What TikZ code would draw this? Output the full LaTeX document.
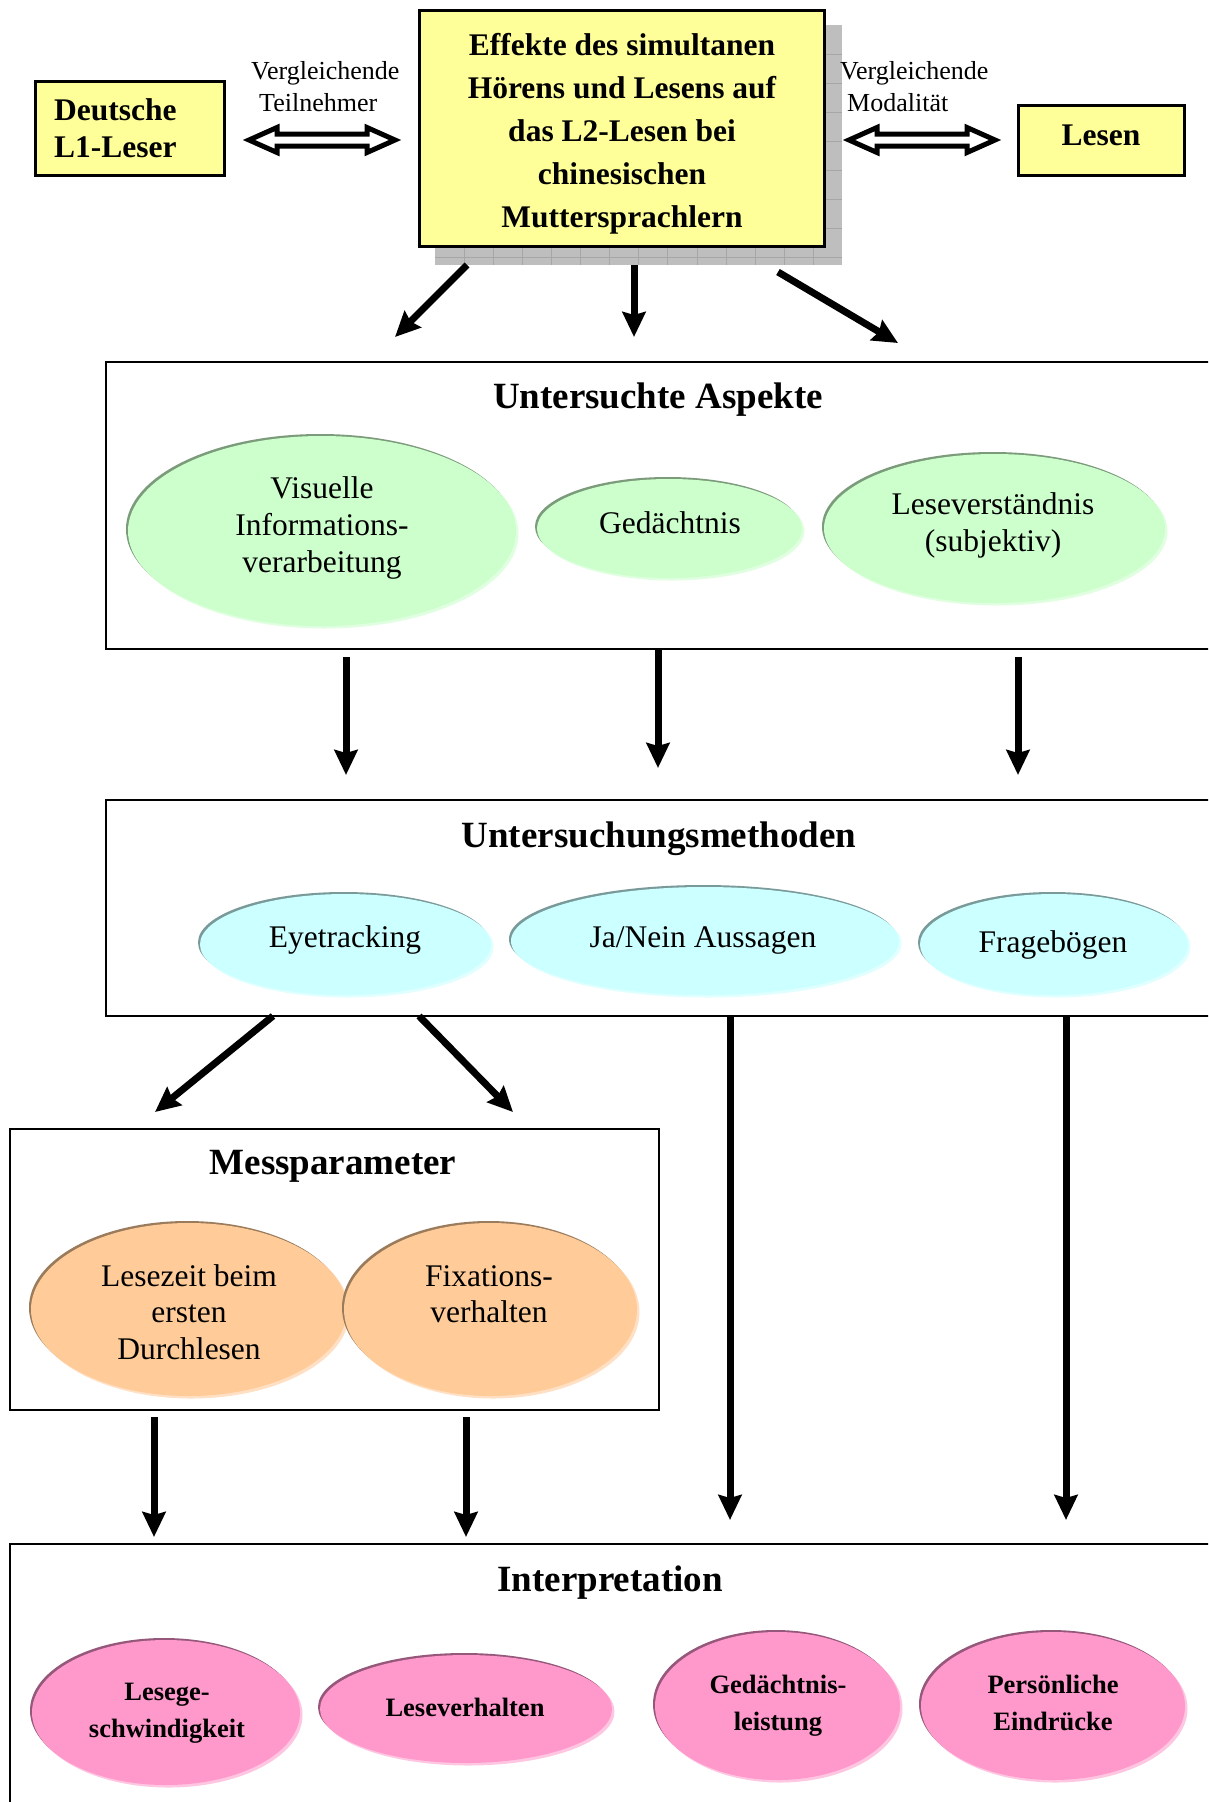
\documentclass[tikz,border=0pt]{standalone}
\usepackage{fontspec}
\setmainfont{Liberation Serif}
\usetikzlibrary{shapes.geometric,arrows.meta}

\definecolor{boxyellow}{HTML}{FFFF99}
\definecolor{shadowgray}{HTML}{BEBEBE}
\definecolor{gridgray}{HTML}{A6A6A6}
\definecolor{aspfill}{HTML}{CCFFCC}
\definecolor{aspedge}{HTML}{7B9B7B}
\definecolor{asphalo}{HTML}{E0FFE0}
\definecolor{metfill}{HTML}{CCFFFF}
\definecolor{metedge}{HTML}{7A9A9A}
\definecolor{methalo}{HTML}{E0FFFF}
\definecolor{parfill}{HTML}{FFCC99}
\definecolor{paredge}{HTML}{9A7B5C}
\definecolor{parhalo}{HTML}{FFE0C4}
\definecolor{intfill}{HTML}{FF99CC}
\definecolor{intedge}{HTML}{96587A}
\definecolor{inthalo}{HTML}{FFC6E2}

\tikzset{
  ybox/.style={rectangle, draw=black, line width=3pt, fill=boxyellow, inner sep=0pt},
  secbox/.style={rectangle, draw=black, line width=2.5pt, inner sep=0pt},
  oval/.style n args={3}{ellipse, inner sep=0pt, fill=#1,
      preaction={fill=#3, transform canvas={shift={(2.5,2.5)}}},
      preaction={fill=#2, transform canvas={shift={(-2,-2)}}}},
  aspekt/.style={oval={aspfill}{aspedge}{asphalo}},
  methode/.style={oval={metfill}{metedge}{methalo}},
  param/.style={oval={parfill}{paredge}{parhalo}},
  deutung/.style={oval={intfill}{intedge}{inthalo}},
  bigarrow/.style={line width=7pt, -{Stealth[length=25pt,width=23pt,inset=3pt]}},
  dblarrow/.style={draw=black, line width=5pt, line join=miter, fill=white},
  hdr/.style={font=\bfseries\fontsize{31.5}{43}\selectfont, inner sep=0pt, anchor=base},
  lab/.style={font=\fontsize{26}{30}\selectfont, inner sep=0pt, anchor=base west},
  sectitle/.style={font=\bfseries\fontsize{37}{42}\selectfont, inner sep=0pt, anchor=base},
  ovaltext/.style={font=\fontsize{31.5}{37}\selectfont, inner sep=0pt, anchor=base},
  inttext/.style={font=\bfseries\fontsize{26.5}{37}\selectfont, inner sep=0pt, anchor=base}
}

\begin{document}
\begin{tikzpicture}[x=1pt,y=-1pt]
\useasboundingbox (0,0) rectangle (1208,1802);
\clip (0,0) rectangle (1208,1802);
\fill[white] (0,0) rectangle (1208,1802);

% raster shadow behind the central box
\fill[shadowgray] (435,25) rectangle (842,265);
\begin{scope}
  \clip (435,25) rectangle (842,265);
  \foreach \k in {1,...,13}
    \draw[gridgray, line width=0.8pt] ({435+29.1*\k},25) -- ({435+29.1*\k},265);
  \foreach \k in {1,...,8}
    \draw[gridgray, line width=0.8pt] (435,{25+29*\k}) -- (842,{25+29*\k});
\end{scope}

% top row
\node[ybox, minimum width=405pt, minimum height=236pt] (thema) at (622,128.5) {};
\node[hdr] (themaT) at (622,55) {\parbox[t]{400pt}{\centering Effekte des simultanen\\Hörens und Lesens auf\\das L2-Lesen bei\\chinesischen\\Muttersprachlern}};

\node[ybox, minimum width=189pt, minimum height=94pt] (deutsch) at (130,128.5) {};
\node[hdr, font=\bfseries\fontsize{31.5}{37}\selectfont, anchor=base west] (deutschT) at (54,120)
  {\parbox[t]{170pt}{\raggedright Deutsche\\L1-Leser}};

\node[ybox, minimum width=166pt, minimum height=70pt] (lesen) at (1101.5,140.5) {};
\node[hdr] (lesenT) at (1101,145) {Lesen};

% comparison arrows
\draw[dblarrow] (249,140) -- (277,127.5) -- (277,134) -- (367,134) -- (367,127.5) -- (395,140)
  -- (367,152.5) -- (367,146) -- (277,146) -- (277,152.5) -- cycle;
\draw[dblarrow] (849,140) -- (877,127.5) -- (877,134) -- (967,134) -- (967,127.5) -- (995,140)
  -- (967,152.5) -- (967,146) -- (877,146) -- (877,152.5) -- cycle;

\node[lab] (cmpA1) at (251,79) {Vergleichende};
\node[lab] (cmpA2) at (259,111) {Teilnehmer};
\node[lab] (cmpB1) at (840,79) {Vergleichende};
\node[lab] (cmpB2) at (847,111) {Modalität};

% section frames
\node[secbox, minimum width=1124pt, minimum height=287pt] (aspekte) at (668,505.5) {};
\node[secbox, minimum width=1124pt, minimum height=216pt] (methoden) at (668,908) {};
\node[secbox, minimum width=649pt, minimum height=281pt] (parameter) at (334.5,1269.5) {};
\node[secbox, minimum width=1220pt, minimum height=286pt] (interpretation) at (620,1687) {};

\node[sectitle] (aspekteT) at (658,408) {Untersuchte Aspekte};
\node[sectitle] (methodenT) at (659,847) {Untersuchungsmethoden};
\node[sectitle] (parameterT) at (333,1174) {Messparameter};
\node[sectitle] (interpretationT) at (610,1591) {Interpretation};

% examined aspects
\node[aspekt, minimum width=388pt, minimum height=190pt] (vis) at (322,531) {};
\node[ovaltext] (visT) at (322,498) {\parbox[t]{360pt}{\centering Visuelle\\Informations-\\verarbeitung}};
\node[aspekt, minimum width=265pt, minimum height=99pt] (ged) at (669.5,528.5) {};
\node[ovaltext] (gedT) at (670,533) {Gedächtnis};
\node[aspekt, minimum width=341pt, minimum height=149pt] (lv) at (994.5,528.5) {};
\node[ovaltext] (lvT) at (993,514) {\parbox[t]{320pt}{\centering Leseverständnis\\(subjektiv)}};

% methods
\node[methode, minimum width=291pt, minimum height=101pt] (eye) at (345.5,944.5) {};
\node[ovaltext] (eyeT) at (345,947) {Eyetracking};
\node[methode, minimum width=388pt, minimum height=108pt] (jn) at (705,941) {};
\node[ovaltext] (jnT) at (703,947) {Ja/Nein Aussagen};
\node[methode, minimum width=268pt, minimum height=101pt] (fb) at (1054,944.5) {};
\node[ovaltext] (fbT) at (1053,952) {Fragebögen};

% measured parameters
\node[param, minimum width=316pt, minimum height=173pt] (lz) at (189,1309.5) {};
\node[ovaltext, font=\fontsize{31.5}{36.5}\selectfont] (lzT) at (189,1286)
  {\parbox[t]{300pt}{\centering Lesezeit beim\\ersten\\Durchlesen}};
\node[param, minimum width=293pt, minimum height=173pt] (fix) at (490.5,1309.5) {};
\node[ovaltext, font=\fontsize{31.5}{36.5}\selectfont] (fixT) at (489,1286)
  {\parbox[t]{280pt}{\centering Fixations-\\verhalten}};

% interpretation
\node[deutung, minimum width=268pt, minimum height=145pt] (lg) at (166,1712.5) {};
\node[inttext] (lgT) at (167,1700) {\parbox[t]{260pt}{\centering Lesege-\\schwindigkeit}};
\node[deutung, minimum width=292pt, minimum height=108pt] (lvh) at (466,1709) {};
\node[inttext] (lvhT) at (465,1716) {Leseverhalten};
\node[deutung, minimum width=245pt, minimum height=148pt] (gl) at (777.5,1706) {};
\node[inttext] (glT) at (778,1693) {\parbox[t]{240pt}{\centering Gedächtnis-\\leistung}};
\node[deutung, minimum width=264pt, minimum height=148pt] (pe) at (1053,1706) {};
\node[inttext] (peT) at (1053,1693) {\parbox[t]{250pt}{\centering Persönliche\\Eindrücke}};

% arrow end points
\coordinate (t1s) at (467,265);  \coordinate (t1e) at (395,337);
\coordinate (t2s) at (634,265);  \coordinate (t2e) at (634,337);
\coordinate (t3s) at (778,272);  \coordinate (t3e) at (898,343);
\coordinate (u1s) at (346,657);  \coordinate (u1e) at (346,775);
\coordinate (u2s) at (658,649);  \coordinate (u2e) at (658,768);
\coordinate (u3s) at (1018,657); \coordinate (u3e) at (1018,775);
\coordinate (m1s) at (273,1016); \coordinate (m1e) at (155,1112);
\coordinate (m2s) at (419,1016); \coordinate (m2e) at (513,1112);
\coordinate (m3s) at (730,1016); \coordinate (m3e) at (730,1520);
\coordinate (m4s) at (1066,1016);\coordinate (m4e) at (1066,1520);
\coordinate (p1s) at (154,1417); \coordinate (p1e) at (154,1537);
\coordinate (p2s) at (466,1417); \coordinate (p2e) at (466,1537);

\draw[bigarrow] (t1s) -- (t1e);
\draw[bigarrow] (t2s) -- (t2e);
\draw[bigarrow] (t3s) -- (t3e);
\draw[bigarrow] (u1s) -- (u1e);
\draw[bigarrow] (u2s) -- (u2e);
\draw[bigarrow] (u3s) -- (u3e);
\draw[bigarrow] (m1s) -- (m1e);
\draw[bigarrow] (m2s) -- (m2e);
\draw[bigarrow] (m3s) -- (m3e);
\draw[bigarrow] (m4s) -- (m4e);
\draw[bigarrow] (p1s) -- (p1e);
\draw[bigarrow] (p2s) -- (p2e);
\end{tikzpicture}
\end{document}
